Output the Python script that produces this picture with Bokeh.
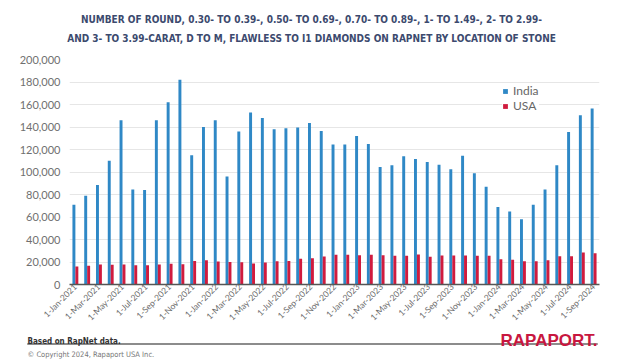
import math
from bokeh.plotting import figure
from bokeh.layouts import column
from bokeh.models import Range1d, FixedTicker, NumeralTickFormatter, Label, BoxAnnotation
from bokeh.embed import file_html
from bokeh.resources import INLINE

# ---- data -------------------------------------------------------------
tick_labels = ["1-Jan-2021", "1-Mar-2021", "1-May-2021", "1-Jul-2021", "1-Sep-2021",
               "1-Nov-2021", "1-Jan-2022", "1-Mar-2022", "1-May-2022", "1-Jul-2022",
               "1-Sep-2022", "1-Nov-2022", "1-Jan-2023", "1-Mar-2023", "1-May-2023",
               "1-Jul-2023", "1-Sep-2023", "1-Nov-2023", "1-Jan-2024", "1-Mar-2024",
               "1-May-2024", "1-Jul-2024", "1-Sep-2024"]

india = [71000, 79000, 88500, 110000, 146000, 84500, 84000, 146000, 162000, 182000,
         115000, 140000, 146000, 96000, 136000, 153000, 148000, 138000, 139000, 139500,
         143500, 136500, 124500, 124500, 132000, 125000, 104500, 106000, 114000, 111500,
         109000, 106500, 102500, 114500, 99000, 87000, 69000, 65000, 58000, 71000,
         84500, 106000, 135500, 150500, 156500]

usa = [16000, 16600, 17800, 17500, 17800, 17200, 17200, 17800, 18400, 18100,
       21000, 21600, 20400, 20100, 19800, 18700, 19500, 20700, 21000, 22800,
       23400, 24900, 26400, 26400, 26100, 26400, 26100, 25500, 25500, 26700,
       24600, 25800, 25800, 25800, 25500, 25500, 22500, 21900, 20700, 20700,
       21600, 25200, 25200, 28400, 27800]

series_names = ["India", "USA"]
colors = ["#2f88c6", "#d01b3e"]
y_ticks = [0, 20000, 40000, 60000, 80000, 100000, 120000, 140000, 160000, 180000, 200000]

title_lines = ["NUMBER OF ROUND, 0.30- TO 0.39-, 0.50- TO 0.69-, 0.70- TO 0.89-, 1- TO 1.49-, 2- TO 2.99-",
               "AND 3- TO 3.99-CARAT, D TO M, FLAWLESS TO I1 DIAMONDS ON RAPNET BY LOCATION OF STONE"]
source_note = "Based on RapNet data."
copyright_note = "\u00a9 Copyright 2024, Rapaport USA Inc."
brand = "RAPAPORT."

W = 622
NARROW = "'DejaVu Sans Condensed', sans-serif"


def blank(height):
    f = figure(width=W, height=height, output_backend="svg", toolbar_location=None,
               title=None, x_axis_type=None, y_axis_type=None,
               x_range=Range1d(0, W), y_range=Range1d(0, height),
               min_border_left=0, min_border_right=0,
               min_border_top=0, min_border_bottom=0)
    f.frame_align = False
    f.outline_line_color = None
    f.grid.grid_line_color = None
    f.border_fill_color = "white"
    f.background_fill_color = "white"
    return f


# ---- heading (page y 0..50) -------------------------------------------
HEAD_H = 50
head = blank(HEAD_H)
for txt, py in zip(title_lines, [19, 38]):
    head.add_layout(Label(x=311, y=HEAD_H - py, text=txt, text_align="center",
                          text_baseline="middle", text_font=NARROW, text_font_style="bold",
                          text_font_size="10px", text_color="#3c4a6e"))

# ---- main chart (page y 50..328) --------------------------------------
n = len(india)
xs = list(range(n))

p = figure(width=W, height=278, output_backend="svg", toolbar_location=None,
           title=None, x_range=Range1d(-0.5, n - 0.5), y_range=Range1d(0, 200000),
           min_border_left=69, min_border_right=23, min_border_top=9, min_border_bottom=44)
p.frame_align = False
p.outline_line_color = None
p.background_fill_color = "white"
p.border_fill_color = "white"

w = 0.25
p.vbar(x=[x - 0.125 for x in xs], top=india, width=w, color=colors[0], line_color=None,
       legend_label=series_names[0])
p.vbar(x=[x + 0.125 for x in xs], top=usa, width=w, color=colors[1], line_color=None,
       legend_label=series_names[1])

p.xgrid.grid_line_color = None
p.ygrid.grid_line_color = "#e6e6e6"
p.ygrid.grid_line_width = 1
p.yaxis.ticker = FixedTicker(ticks=y_ticks)
p.yaxis.formatter = NumeralTickFormatter(format="0,0")
p.yaxis.axis_line_color = None
p.yaxis.major_tick_line_color = None
p.yaxis.minor_tick_line_color = None
p.yaxis.major_tick_out = 0
p.yaxis.major_tick_in = 0
p.yaxis.major_label_text_font = "Lato"
p.yaxis.major_label_text_font_size = "11px"
p.yaxis.major_label_text_color = "#707070"
p.yaxis.major_label_standoff = 9

p.xaxis.ticker = FixedTicker(ticks=[2 * i for i in range(len(tick_labels))])
p.xaxis.major_label_overrides = {2 * i: t for i, t in enumerate(tick_labels)}
p.xaxis.major_label_orientation = math.pi / 4
p.xaxis.axis_line_color = "#555555"
p.xaxis.axis_line_width = 1.5
p.xaxis.major_tick_line_color = None
p.xaxis.minor_tick_line_color = None
p.xaxis.major_tick_out = 0
p.xaxis.major_tick_in = 0
p.xaxis.major_label_text_font = "Lato"
p.xaxis.major_label_text_font_size = "8.5px"
p.xaxis.major_label_text_color = "#6a6a6a"
p.xaxis.major_label_standoff = 1

lg = p.legend[0]
lg.location = (433, 171)
lg.border_line_color = None
lg.background_fill_color = "white"
lg.background_fill_alpha = 1
lg.glyph_width = 6
lg.glyph_height = 6
lg.label_text_font = "Lato"
lg.label_text_font_size = "12px"
lg.label_text_color = "#666666"
lg.label_standoff = 5
lg.spacing = 0
lg.padding = 6
lg.margin = 0

# ---- footer (page y 328..362) -----------------------------------------
FOOT_TOP, FOOT_H = 328, 34
foot = blank(FOOT_H)


def fy(page_y):
    return FOOT_TOP + FOOT_H - page_y


foot.segment(x0=[27], y0=[fy(343.5)], x1=[597], y1=[fy(343.5)],
             line_color="#8c8c8c", line_width=2)
foot.add_layout(BoxAnnotation(left=27, right=597, bottom=fy(344.5), top=fy(342.5),
                              fill_color="#8c8c8c", fill_alpha=1.0, line_color=None))
foot.add_layout(Label(x=27, y=fy(340.5), text=source_note, text_align="left",
                      text_baseline="alphabetic", text_font=NARROW, text_font_style="bold",
                      text_font_size="8px", text_color="#333333"))
foot.add_layout(Label(x=27, y=fy(354), text=copyright_note, text_align="left",
                      text_baseline="alphabetic", text_font=NARROW, text_font_size="7.5px",
                      text_color="#777777"))
foot.add_layout(Label(x=597, y=fy(340), text=brand, text_align="right",
                      text_baseline="alphabetic", text_font="Liberation Sans",
                      text_font_style="bold", text_font_size="17px", text_color="#c8173f"))

layout = column(head, p, foot, spacing=0)
open("out.html", "w").write(file_html(layout, INLINE))
